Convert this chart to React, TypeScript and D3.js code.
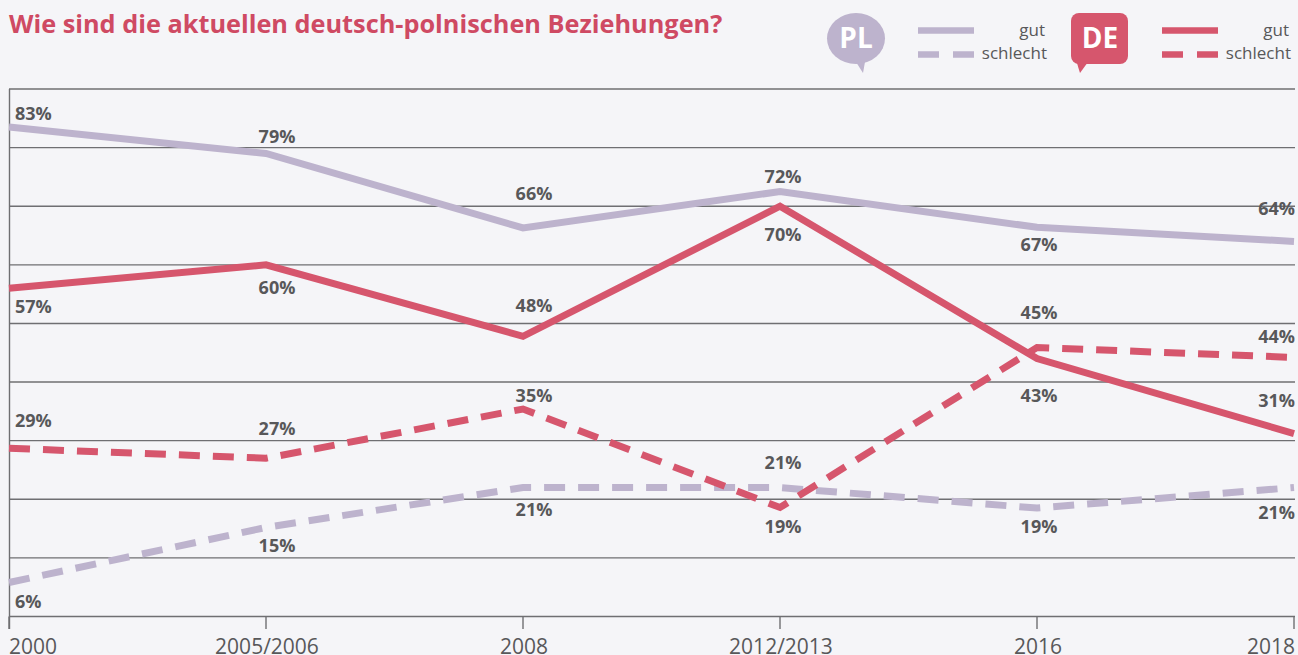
import React from "react";
import * as d3 from "d3";

const periods = ["2000", "2005/2006", "2008", "2012/2013", "2016", "2018"];
const gridValues = [0, 10, 20, 30, 40, 50, 60, 70, 80, 90];
const plGood = [83.5, 79, 66.3, 72.5, 66.4, 64];
const plBad = [5.8, 15.2, 22, 22, 18.5, 22];
const deGood = [56, 60, 47.8, 70, 44, 31.2];
const deBad = [28.7, 27, 35.4, 18.6, 45.9, 44.2];
const plGoodLabels = ["83%", "79%", "66%", "72%", "67%", "64%"];
const plBadLabels = ["6%", "15%", "21%", "21%", "19%", "21%"];
const deGoodLabels = ["57%", "60%", "48%", "70%", "43%", "31%"];
const deBadLabels = ["29%", "27%", "35%", "19%", "45%", "44%"];
const title = "Wie sind die aktuellen deutsch-polnischen Beziehungen?";

const FONT = "'Open Sans', 'Noto Sans', sans-serif";
const PURPLE = "#bdb3cd";
const RED = "#d6566d";
const GREY = "#58585a";
const LINE = "#6f6f72";

const x = d3.scalePoint<string>().domain(periods).range([9, 1294]);
const y = d3.scaleLinear().domain([0, 90]).range([616.5, 89]);

const seriesList = [
  { key: "plGood", values: plGood, labels: plGoodLabels, color: PURPLE, dash: "none", labelY: [120, 143, 200, 183, 251, 215] },
  { key: "deGood", values: deGood, labels: deGoodLabels, color: RED, dash: "none", labelY: [313, 294, 312, 241, 402, 407] },
  { key: "plBad", values: plBad, labels: plBadLabels, color: PURPLE, dash: "21 13", labelY: [608, 552, 516, 469, 533, 519] },
  { key: "deBad", values: deBad, labels: deBadLabels, color: RED, dash: "21 13", labelY: [427, 435, 402, 533, 319, 343] },
];

const columnShift = [6, 11, 11, 3, 2, 1];
const anchorFor = (i: number) => (i === 0 ? "start" : i === periods.length - 1 ? "end" : "middle");
const labelX = (p: string, i: number) => (x(p) as number) + columnShift[i];

function Legend({ ox, color, label, bubble }: { ox: number; color: string; label: string; bubble: "round" | "square" }) {
  return (
    <g>
      {bubble === "round" ? (
        <g>
          <ellipse cx={ox + 29} cy={38.5} rx={29} ry={25.5} fill={color} />
          <path d={`M${ox + 29} 62 L${ox + 36} 73 L${ox + 38} 62 Z`} fill={color} />
        </g>
      ) : (
        <g>
          <rect x={ox} y={13} width={57} height={51} rx={8} fill={color} />
          <path d={`M${ox + 5} 60 L${ox + 9} 73 L${ox + 17} 62 Z`} fill={color} />
        </g>
      )}
      <text x={ox + 29} y={48} textAnchor="middle" fontSize={28} fontWeight={700} fill="#fff" fontFamily={FONT}>
        {label}
      </text>
    </g>
  );
}

function LegendKey({ x0, x1, textRight, color }: { x0: number; x1: number; textRight: number; color: string }) {
  return (
    <g>
      <line x1={x0} x2={x1} y1={30.5} y2={30.5} stroke={color} strokeWidth={6.5} />
      <line x1={x0} x2={x1} y1={54.5} y2={54.5} stroke={color} strokeWidth={6.5} strokeDasharray="21 14" />
      <text x={textRight - 2} y={36} textAnchor="end" fontSize={17} fill={GREY} fontFamily={FONT}>gut</text>
      <text x={textRight} y={59} textAnchor="end" fontSize={17} fill={GREY} fontFamily={FONT}>schlecht</text>
    </g>
  );
}

export default function App() {
  const line = d3
    .line<number>()
    .x((_, i) => x(periods[i]) as number)
    .y((d) => y(d));
  return (
    <svg
      width={1298}
      height={655}
      viewBox="0 0 1298 655"
      style={{ position: "fixed", left: 0, top: 0, display: "block", background: "#f5f5f8" }}
    >
      <text x={9} y={33} fontSize={25.3} fontWeight={700} fill="#cf4a63" fontFamily={FONT}>
        {title}
      </text>
      <Legend ox={827} color={PURPLE} label="PL" bubble="round" />
      <LegendKey x0={918} x1={974} textRight={1047} color={PURPLE} />
      <Legend ox={1071} color={RED} label="DE" bubble="square" />
      <LegendKey x0={1162} x1={1218} textRight={1291} color={RED} />

      {gridValues.map((v) => (
        <line key={v} x1={9} x2={1295} y1={y(v)} y2={y(v)} stroke={LINE} strokeWidth={1.4} />
      ))}
      <line x1={9.5} x2={9.5} y1={y(90)} y2={629} stroke={LINE} strokeWidth={1.4} />
      {periods.map((p) => (
        <line key={p} x1={x(p)} x2={x(p)} y1={y(0)} y2={629} stroke={LINE} strokeWidth={1.4} />
      ))}
      {periods.map((p, i) => (
        <text
          key={p}
          x={i === 0 ? 9 : i === periods.length - 1 ? 1295 : (x(p) as number) + 1}
          y={654}
          textAnchor={anchorFor(i)}
          fontSize={21}
          fill={GREY}
          fontFamily={FONT}
        >
          {p}
        </text>
      ))}

      {seriesList.map((s) => (
        <path
          key={s.key}
          d={line(s.values) as string}
          fill="none"
          stroke={s.color}
          strokeWidth={7}
          strokeDasharray={s.dash}
          strokeLinejoin="miter"
        />
      ))}

      {seriesList.map((s) =>
        s.labels.map((l, i) => (
          <text
            key={s.key + i}
            x={labelX(periods[i], i)}
            y={s.labelY[i]}
            textAnchor={anchorFor(i)}
            fontSize={18}
            fontWeight={700}
            fill={GREY}
            fontFamily={FONT}
          >
            {l}
          </text>
        ))
      )}
    </svg>
  );
}
